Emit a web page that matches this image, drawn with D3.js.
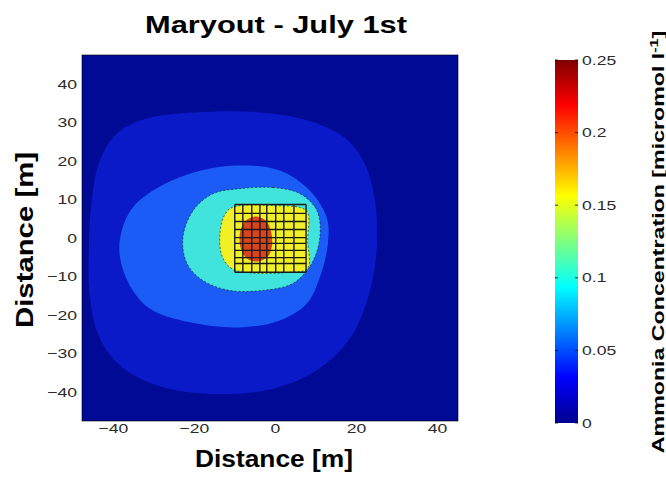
<!DOCTYPE html>
<html><head><meta charset="utf-8">
<script src="https://cdn.jsdelivr.net/npm/d3@7"></script>
<style>body{margin:0;background:#fff}svg{display:block}</style>
</head><body>
<svg id="chart" width="666" height="485"></svg>
<script>
// ---------------- data ----------------
const chartTitle = "Maryout - July 1st";
const xLabel = "Distance [m]";
const yLabel = "Distance [m]";
const cbLabelMain = "Ammonia Concentration [micromol l";
const cbLabelSup = "-1";
const xTicks = [-40, -20, 0, 20, 40];
const yTicks = [40, 30, 20, 10, 0, -10, -20, -30, -40];
const cbTicks = [0, 0.05, 0.1, 0.15, 0.2, 0.25];
const cbTickLabels = ["0", "0.05", "0.1", "0.15", "0.2", "0.25"];
const xDomain = [-47.6, 45.2];
const yDomain = [-47.5, 47.5];
const cDomain = [0, 0.25];
// contour levels (lower value of each filled band)
const levels = [0, 0.025, 0.05, 0.1, 0.15, 0.2];
// contour boundaries [x, y] in metres
const contour025 = [[-43.2,20.1],[-38.8,27.3],[-30.9,31.2],[-16.0,32.8],[-2.5,32.5],[9.1,30.2],[17.3,26.0],[22.2,19.3],[24.7,9.7],[25.2,-1.9],[23.5,-13.6],[19.0,-25.3],[11.1,-33.8],[0,-39.0],[-14.8,-40.5],[-28.4,-38.5],[-38.3,-33.0],[-43.5,-25.3],[-45.7,-14.9],[-45.9,-1.9],[-45.2,9.7]];
const contour050 = [[-9.4,18.8],[1.2,17.5],[8.6,12.3],[12.8,5.3],[13.1,-1.4],[11.1,-10.2],[7.9,-17.0],[1.2,-21.4],[-8.6,-23.2],[-21.0,-21.9],[-30.9,-18.3],[-35.8,-12.3],[-38.3,-4.5],[-37.8,1.9],[-35.3,7.6],[-30.1,12.3],[-21.0,16.7]];
const contour100 = [[-8.6,12.8],[-0.5,13.1],[6.2,11.5],[10.4,7.1],[11.1,0.1],[9.1,-6.6],[4.4,-11.8],[-3.0,-13.6],[-11.1,-13.6],[-17.8,-11.0],[-21.7,-6.6],[-22.7,0.1],[-20.2,7.1],[-15.3,11.5]];
const contour150 = [[-8.6,8.4],[0,8.4],[6.2,7.9],[8.1,6.6],[8.1,-0.6],[8.1,-7.9],[3.7,-8.9],[-7.4,-8.9],[-11.1,-7.6],[-13.1,-4.5],[-13.6,0.1],[-12.8,5.1],[-11.1,7.6]];
const contour200 = [[-4.7,5.6],[-2.2,4.5],[-1.0,1.9],[-0.7,-1.9],[-1.7,-4.8],[-4.2,-6.1],[-6.9,-5.3],[-8.4,-2.7],[-8.6,1.4],[-7.2,4.5]];
const contours = [contour025, contour050, contour100, contour150, contour200];
// net grid lines (metres)
const netX = [-9.9, -7.9, -5.7, -3.7, -2.0, 0.2, 2.2, 4.7, 7.7];
const netY = [8.7, 6.4, 4.3, 2.2, 0.1, -1.4, -3.2, -5.1, -6.6, -8.9];
// jet colormap stops
const jetPos = [0, 0.125, 0.375, 0.625, 0.875, 1];
const jetCol = ["#000090", "#0000ff", "#00ffff", "#ffff00", "#ff0000", "#800000"];
// observed band fills
const bandColors = ["#000a94", "#0a1ac8", "#1a5cf5", "#40e4dc", "#f0f024", "#d8441c"];

// ---------------- drawing ----------------
const svg = d3.select("#chart");
const font = "'Liberation Sans', Arial, Helvetica, sans-serif";
const plot = {l: 82, r: 458, t: 55, b: 421};
const x = d3.scaleLinear().domain(xDomain).range([plot.l, plot.r]);
const y = d3.scaleLinear().domain(yDomain).range([plot.b, plot.t]);

const defs = svg.append("defs");
defs.append("clipPath").attr("id", "clip").append("rect")
  .attr("x", plot.l).attr("y", plot.t).attr("width", plot.r - plot.l).attr("height", plot.b - plot.t);

const g = svg.append("g").attr("clip-path", "url(#clip)");
g.append("rect").attr("x", plot.l).attr("y", plot.t).attr("width", plot.r - plot.l).attr("height", plot.b - plot.t)
  .attr("fill", bandColors[0]);
const line = d3.line().x(d => x(d[0])).y(d => y(d[1])).curve(d3.curveCatmullRomClosed.alpha(0.5));
contours.forEach((c, i) => {
  g.append("path").attr("d", line(c)).attr("fill", bandColors[i + 1]).attr("stroke", "none");
});
[contour100, contour150].forEach(c => {
  g.append("path").attr("d", line(c)).attr("fill", "none").attr("stroke", "#000").attr("stroke-width", 1)
    .attr("stroke-dasharray", "2,2").attr("opacity", 0.55);
});
// net grid
const yExt = d3.extent(netY), xExt = d3.extent(netX);
netX.forEach(v => g.append("line").attr("x1", x(v)).attr("x2", x(v)).attr("y1", y(yExt[1])).attr("y2", y(yExt[0]))
  .attr("stroke", "#1a1a1a").attr("stroke-width", 1.4));
netY.forEach(v => g.append("line").attr("y1", y(v)).attr("y2", y(v)).attr("x1", x(xExt[0])).attr("x2", x(xExt[1]))
  .attr("stroke", "#1a1a1a").attr("stroke-width", 1.4));

// stretch helper for the wide original lettering
function stretch(sel, k) {
  sel.each(function() {
    const w = this.getComputedTextLength();
    d3.select(this).attr("textLength", w * k).attr("lengthAdjust", "spacingAndGlyphs");
  });
}

// axes
const xAxis = d3.axisBottom(x).tickValues(xTicks).tickSize(0).tickPadding(3);
const yAxis = d3.axisLeft(y).tickValues(yTicks).tickSize(0).tickPadding(5);
const gx = svg.append("g").attr("transform", `translate(0,${plot.b})`).call(xAxis);
const gy = svg.append("g").attr("transform", `translate(${plot.l},0)`).call(yAxis);
[gx, gy].forEach(a => {
  a.select(".domain").remove();
  a.selectAll("text").attr("font-family", font).attr("font-size", 13).attr("fill", "#2a2a2a");
  stretch(a.selectAll("text"), 1.35);
});
svg.append("rect").attr("x", plot.l).attr("y", plot.t).attr("width", plot.r - plot.l).attr("height", plot.b - plot.t)
  .attr("fill", "none").attr("stroke", "#000").attr("stroke-width", 0.6);

// titles
svg.append("text").attr("x", 276).attr("y", 33).attr("text-anchor", "middle")
  .attr("font-family", font).attr("font-weight", "bold").attr("font-size", 23)
  .attr("textLength", 262).attr("lengthAdjust", "spacingAndGlyphs").text(chartTitle);
svg.append("text").attr("x", 274).attr("y", 467).attr("text-anchor", "middle")
  .attr("font-family", font).attr("font-weight", "bold").attr("font-size", 23)
  .attr("textLength", 158).attr("lengthAdjust", "spacingAndGlyphs").text(xLabel);
svg.append("text").attr("transform", "translate(33,240) rotate(-90)").attr("text-anchor", "middle")
  .attr("font-family", font).attr("font-weight", "bold").attr("font-size", 23)
  .attr("textLength", 176).attr("lengthAdjust", "spacingAndGlyphs").text(yLabel);

// colorbar
const cb = {l: 555, r: 578, t: 60, b: 423};
const c = d3.scaleLinear().domain(cDomain).range([cb.b, cb.t]);
const grad = defs.append("linearGradient").attr("id", "jet").attr("x1", 0).attr("x2", 0).attr("y1", 1).attr("y2", 0);
jetPos.forEach((p, i) => grad.append("stop").attr("offset", p).attr("stop-color", jetCol[i]));
svg.append("rect").attr("x", cb.l).attr("y", c(cDomain[1])).attr("width", cb.r - cb.l).attr("height", c(cDomain[0]) - c(cDomain[1]))
  .attr("fill", "url(#jet)");
const cAxis = d3.axisRight(c).tickValues(cbTicks).tickFormat((d, i) => cbTickLabels[i]).tickSize(0).tickPadding(4);
const gc = svg.append("g").attr("transform", `translate(${cb.r},0)`).call(cAxis);
gc.select(".domain").remove();
gc.selectAll("text").attr("font-family", font).attr("font-size", 13).attr("fill", "#2a2a2a");
stretch(gc.selectAll("text"), 1.35);
cbTicks.forEach(v => {
  svg.append("line").attr("x1", cb.l).attr("x2", cb.l + 3).attr("y1", c(v)).attr("y2", c(v)).attr("stroke", "#000").attr("stroke-width", 0.8);
  svg.append("line").attr("x1", cb.r - 3).attr("x2", cb.r).attr("y1", c(v)).attr("y2", c(v)).attr("stroke", "#000").attr("stroke-width", 0.8);
});
const cbt = svg.append("text").attr("transform", "translate(664,242) rotate(-90) scale(1.45,1)").attr("text-anchor", "middle")
  .attr("font-family", font).attr("font-weight", "bold").attr("font-size", 16);
cbt.append("tspan").text(cbLabelMain);
cbt.append("tspan").attr("font-size", 11).attr("dy", -6).text(cbLabelSup);
cbt.append("tspan").attr("dy", 6).text("]");
</script>
</body></html>
